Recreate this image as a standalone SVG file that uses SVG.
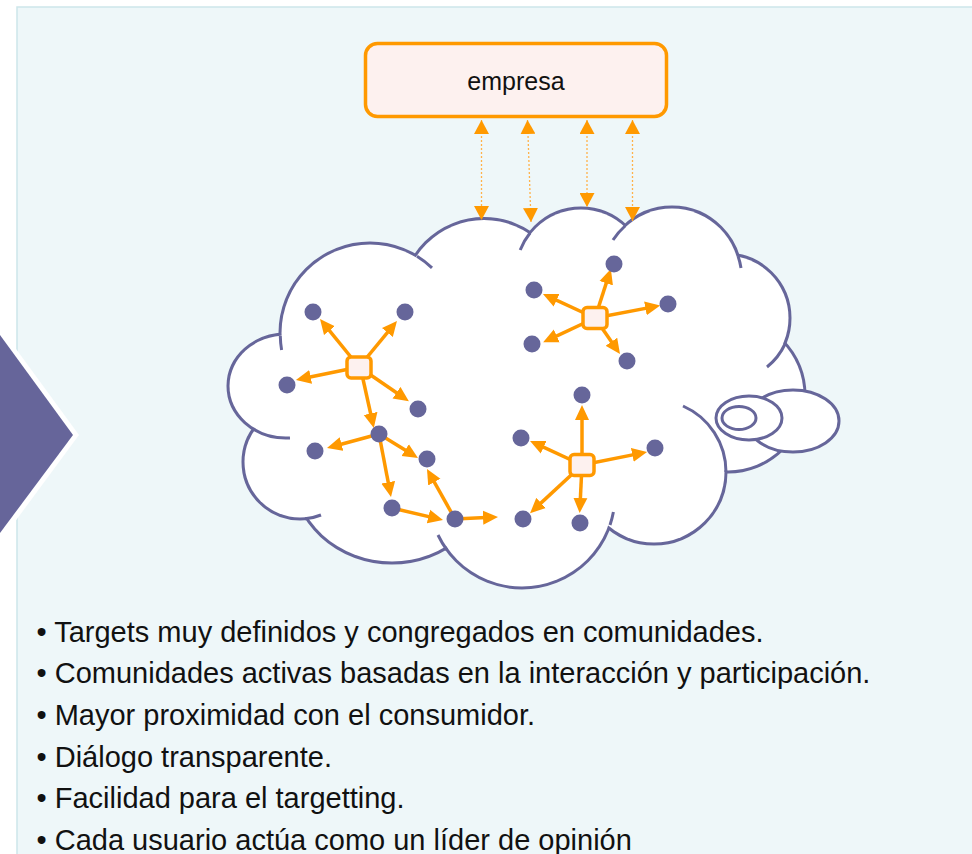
<svg xmlns="http://www.w3.org/2000/svg" xmlns:xlink="http://www.w3.org/1999/xlink" width="972" height="854" viewBox="0 0 972 854">
<style>
.txt{font-family:"Liberation Sans",Arial,sans-serif;fill:#111}
.lobe-stroke{fill:#fff;stroke:#66669a;stroke-width:6}
.lobe-fill{fill:#fff;stroke:none}
.ext{fill:none;stroke:#66669a;stroke-width:3}
.bub{fill:#fff;stroke:#66669a;stroke-width:3}
.dot{stroke:#ffb24a;stroke-width:1.3;stroke-dasharray:2 2;fill:none}
.arr{stroke:#ff9900;stroke-width:3.5;fill:none}
.hub{fill:#fdf1ef;stroke:#ff9900;stroke-width:3.5}
.node{fill:#66669a}
</style>
<defs>
<marker id="ah" viewBox="0 0 15 15" markerUnits="userSpaceOnUse" markerWidth="15" markerHeight="15" refX="8" refY="7.5" orient="auto"><path d="M0,0.5 L15,7.5 L0,14.5 z" fill="#ff9900"/></marker>
<marker id="dh" viewBox="0 0 14 15" markerUnits="userSpaceOnUse" markerWidth="14" markerHeight="15" refX="14" refY="7.5" orient="auto-start-reverse"><path d="M0,0 L14,7.5 L0,15 z" fill="#ff9900"/></marker>
<g id="lobes">
<ellipse cx="286" cy="386" rx="56.5" ry="50.5"/>
<circle cx="370" cy="333" r="88.5"/>
<circle cx="484" cy="301" r="81"/>
<circle cx="581" cy="273" r="63.5"/>
<circle cx="672" cy="276" r="67.5"/>
<circle cx="726" cy="318" r="62.5"/>
<circle cx="728" cy="395" r="75.5"/>
<circle cx="654" cy="472" r="70.5"/>
<circle cx="522" cy="495" r="91.5"/>
<ellipse cx="392" cy="470" rx="98.5" ry="91.5"/>
<circle cx="300" cy="462" r="55.5"/>
</g>
</defs>
<rect width="972" height="854" fill="#fff"/>
<rect x="17" y="7" width="975" height="870" fill="#eef7f9" stroke="#cde6ea" stroke-width="1.5"/>
<g id="arrow-left">
<polygon points="0,327 79,435 0,542" fill="#fff"/>
<polygon points="0,335 73,435 0,533" fill="#66659a"/>
</g>
<g id="cloud">
<use xlink:href="#lobes" class="lobe-stroke"/>
<use xlink:href="#lobes" class="lobe-fill"/>
<polygon points="284,338 418,262 530,240 625,232 734,262 779,345 722,468 607,522 447,544 307,512 258,428" fill="#fff"/>
<path class="ext" d="M280.3,336 A90 90 0 0 0 281.6,350"/>
<path class="ext" d="M417,256.2 A90 90 0 0 1 432,267.8"/>
<path class="ext" d="M530,233 A65 65 0 0 0 520.2,250"/>
<path class="ext" d="M625,226 A69 69 0 0 0 613,240"/>
<path class="ext" d="M738,256 A69 69 0 0 1 741,268"/>
<path class="ext" d="M785,344 A64 64 0 0 1 767,367"/>
<path class="ext" d="M726,472 A72 72 0 0 0 683,406"/>
<path class="ext" d="M610,525 A93 93 0 0 0 613.4,512"/>
<path class="ext" d="M447,550 A93 93 0 0 1 438,535"/>
<path class="ext" d="M305,518.8 A57 57 0 0 0 321,515"/>
<path class="ext" d="M253,428.8 A58 52 0 0 0 290,437.9"/>
</g>
<g id="bubble">
<ellipse class="bub" cx="793" cy="421" rx="46" ry="31"/>
<ellipse class="bub" cx="749" cy="418" rx="33" ry="22"/>
<ellipse class="bub" cx="739" cy="418" rx="17" ry="11.5"/>
</g>
<g id="empresa">
<rect x="365.5" y="43.5" width="301" height="73" rx="12" fill="#fdf1ef" stroke="#ff9900" stroke-width="3.5"/>
<text class="txt" x="516" y="90" font-size="25" text-anchor="middle">empresa</text>
</g>
<g id="connectors">
<line class="dot" x1="481.5" y1="120" x2="481.5" y2="220" marker-start="url(#dh)" marker-end="url(#dh)"/>
<line class="dot" x1="527.5" y1="120" x2="531" y2="222" marker-start="url(#dh)" marker-end="url(#dh)"/>
<line class="dot" x1="587" y1="120" x2="587" y2="207" marker-start="url(#dh)" marker-end="url(#dh)"/>
<line class="dot" x1="632.5" y1="120" x2="632.5" y2="221" marker-start="url(#dh)" marker-end="url(#dh)"/>
<g marker-end="url(#ah)">
<line class="arr" x1="359" y1="367" x2="324.4" y2="324.4"/>
<line class="arr" x1="359" y1="367" x2="392.5" y2="326.4"/>
<line class="arr" x1="359" y1="367" x2="302.8" y2="378.5"/>
<line class="arr" x1="359" y1="367" x2="403.1" y2="397.2"/>
<line class="arr" x1="361" y1="370" x2="372.3" y2="421.2"/>
<line class="arr" x1="379" y1="434" x2="333.8" y2="446.2"/>
<line class="arr" x1="379" y1="434" x2="412" y2="454.3"/>
<line class="arr" x1="379" y1="434" x2="389.7" y2="490.1"/>
<line class="arr" x1="392" y1="508" x2="436.2" y2="518.4"/>
<line class="arr" x1="455" y1="519" x2="430.4" y2="475.1"/>
<line class="arr" x1="455" y1="519" x2="491" y2="517.3"/>
<line class="arr" x1="595" y1="318" x2="608.7" y2="275.6"/>
<line class="arr" x1="595" y1="318" x2="549.3" y2="296.9"/>
<line class="arr" x1="595" y1="318" x2="653.3" y2="306.9"/>
<line class="arr" x1="595" y1="318" x2="549.5" y2="339.3"/>
<line class="arr" x1="595" y1="318" x2="616" y2="348.3"/>
<line class="arr" x1="582" y1="465" x2="582" y2="412"/>
<line class="arr" x1="582" y1="465" x2="536.4" y2="443.9"/>
<line class="arr" x1="582" y1="465" x2="640.2" y2="453.4"/>
<line class="arr" x1="582" y1="465" x2="535.2" y2="508.4"/>
<line class="arr" x1="582" y1="465" x2="580" y2="506"/>
</g>
</g>
<g id="hub-a"><rect class="hub" x="347" y="357" width="24" height="21" rx="4"/></g>
<g id="hub-b"><rect class="hub" x="583" y="307.5" width="24" height="21" rx="4"/></g>
<g id="hub-c"><rect class="hub" x="570" y="454.5" width="24" height="21" rx="4"/></g>
<g id="nodes">
<circle id="n1" class="node" cx="313" cy="312" r="8.5"/>
<circle id="n2" class="node" cx="405" cy="312" r="8.5"/>
<circle id="n3" class="node" cx="287" cy="385" r="8.5"/>
<circle id="n4" class="node" cx="418" cy="409" r="8.5"/>
<circle id="n5" class="node" cx="379" cy="434" r="8.5"/>
<circle id="n6" class="node" cx="315" cy="451" r="8.5"/>
<circle id="n7" class="node" cx="427" cy="459" r="8.5"/>
<circle id="n8" class="node" cx="392" cy="508" r="8.5"/>
<circle id="n9" class="node" cx="455" cy="519" r="8.5"/>
<circle id="b1" class="node" cx="614" cy="264" r="8.5"/>
<circle id="b2" class="node" cx="534" cy="290" r="8.5"/>
<circle id="b3" class="node" cx="668" cy="304" r="8.5"/>
<circle id="b4" class="node" cx="532" cy="344" r="8.5"/>
<circle id="b5" class="node" cx="627" cy="361" r="8.5"/>
<circle id="c1" class="node" cx="582" cy="395" r="8.5"/>
<circle id="c2" class="node" cx="521" cy="438" r="8.5"/>
<circle id="c3" class="node" cx="655" cy="448" r="8.5"/>
<circle id="c4" class="node" cx="523" cy="519" r="8.5"/>
<circle id="c5" class="node" cx="580" cy="523" r="8.5"/>
</g>
<g id="bullets" class="txt" font-size="29">
<text x="36.5" y="641.7">• Targets muy definidos y congregados en comunidades.</text>
<text x="36.5" y="683.3">• Comunidades activas basadas en la interacción y participación.</text>
<text x="36.5" y="725">• Mayor proximidad con el consumidor.</text>
<text x="36.5" y="766.7">• Diálogo transparente.</text>
<text x="36.5" y="808.3">• Facilidad para el targetting.</text>
<text x="36.5" y="850">• Cada usuario actúa como un líder de opinión</text>
</g>
</svg>
